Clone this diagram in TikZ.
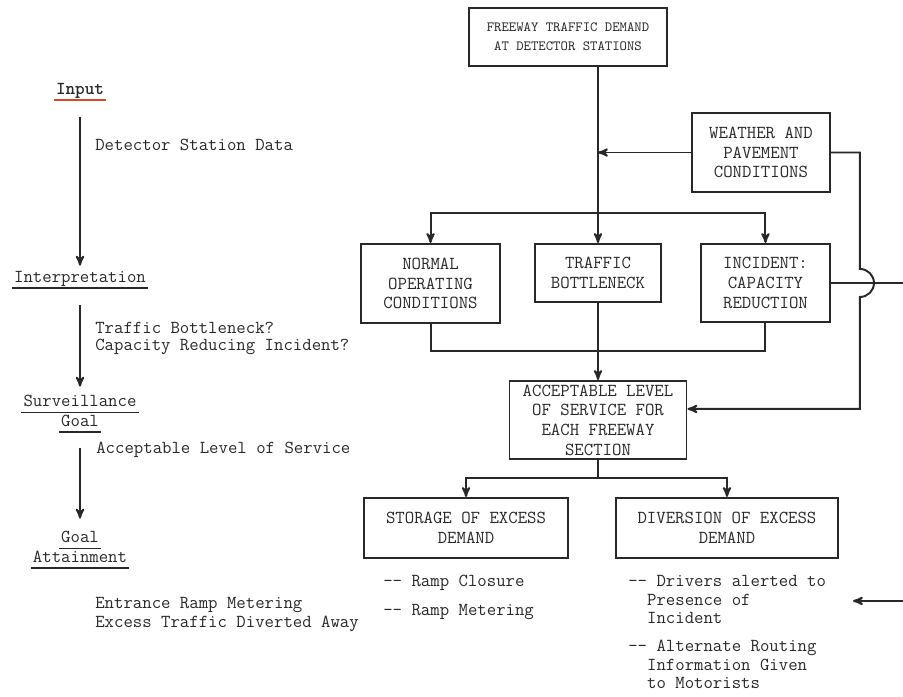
\documentclass[tikz,border=0pt]{standalone}
\usetikzlibrary{positioning,shapes,arrows}
\definecolor{inputred}{RGB}{214,72,40}
\definecolor{ink}{RGB}{40,40,40}
\newcommand\twodash{-\kern0pt-}
\newsavebox\ulbox
\newcommand\rulebelow[2][ink]{\sbox\ulbox{#2}\makebox[0pt][l]{\kern-1.5pt\textcolor{#1}{\rule[-5pt]{\dimexpr\wd\ulbox+3pt\relax}{1.2pt}}}\usebox\ulbox}
\tikzstyle{panel}=[rectangle, draw=ink, line width=1.4pt, text=ink, align=center, inner sep=1pt, font=\ttfamily\fontsize{13}{14}\selectfont]
\tikzstyle{stage}=[inner sep=0pt, align=center, text=ink, font=\ttfamily\fontsize{13}{13}\selectfont]
\tikzstyle{note}=[inner sep=0pt, align=left, text=ink, font=\ttfamily\fontsize{13}{13.5}\selectfont]

\begin{document}
\begin{tikzpicture}[
        node distance = .9cm,
        line/.style={->, >=stealth', line width=1.4pt, draw=ink},
        link/.style={line width=1.4pt, draw=ink},
      ]
      \useasboundingbox (0,0) rectangle (22.575,-17.4);
      % left column
      \node (Input) [stage] at (2.0,-2.3) {\rulebelow[inputred]{\bfseries Input}};
      \node (Interpretation) [stage] at (2.0,-7.0) {\rulebelow{Interpretation}};
      \node (Surveillance) [stage] at (2.0,-10.35) {\rulebelow{Surveillance}\\\rulebelow{Goal}};
      \node (Attainment) [stage] at (2.0,-13.75) {\rulebelow{Goal}\\\rulebelow{Attainment}};
      \node (DataLabel) [note, anchor=west] at (2.375,-3.625) {Detector Station Data};
      \node (QuestionLabel) [note, anchor=west, font=\ttfamily\fontsize{13}{12.5}\selectfont] at (2.375,-8.46)
            {Traffic Bottleneck?\\Capacity Reducing Incident?};
      \node (ServiceLabel) [note, anchor=west] at (2.4,-11.25) {Acceptable Level of Service};
      \node (ActionLabel) [note, anchor=west] at (2.375,-15.36)
            {Entrance Ramp Metering\\Excess Traffic Diverted Away};
      \draw [line, shorten <=.4cm, shorten >=.125cm] (Input) -- (Interpretation);
      \draw [line, shorten <=.4cm, shorten >=.2cm] (Interpretation) -- (Surveillance);
      \draw [line, shorten <=.375cm, shorten >=.3cm] (Surveillance) -- (Attainment);
      % flow chart
      \node (Freeway) [panel, font=\ttfamily\fontsize{10}{13.5}\selectfont, minimum width=4.95cm, minimum height=1.45cm] at (14.2,-0.925)
            {FREEWAY TRAFFIC DEMAND\\AT DETECTOR STATIONS};
      \node (Traffic) [panel, minimum width=3.15cm, minimum height=1.45cm, below=4.4cm of Freeway, xshift=.75cm]
            {TRAFFIC\\BOTTLENECK};
      \node (Normal) [panel, minimum width=3.475cm, minimum height=1.975cm, below left=0cm and .825cm of Traffic.north west]
            {NORMAL\\OPERATING\\CONDITIONS};
      \node (Incident) [panel, minimum width=3.225cm, minimum height=1.95cm, below right=0cm and .95cm of Traffic.north east]
            {INCIDENT:\\CAPACITY\\REDUCTION};
      \node (Weather) [panel, minimum width=3.45cm, minimum height=1.975cm, above left=1.25cm and 0cm of Incident.north east]
            {WEATHER AND\\PAVEMENT\\CONDITIONS};
      \node (Acceptable) [panel, minimum width=4.425cm, minimum height=1.95cm, below=1.925cm of Traffic]
            {ACCEPTABLE LEVEL\\OF SERVICE FOR\\EACH FREEWAY\\SECTION};
      \node (Storage) [panel, minimum width=5.1cm, minimum height=1.5cm, below left=.925cm and .725cm of Acceptable.south]
            {STORAGE OF EXCESS\\DEMAND};
      \node (Diversion) [panel, minimum width=5.55cm, minimum height=1.5cm, below right=.925cm and .425cm of Acceptable.south]
            {DIVERSION OF EXCESS\\DEMAND};
      \node (Closure) [note, below right=.4cm and .5cm of Storage.south west]
            {\twodash{} Ramp Closure\\[7pt]\twodash{} Ramp Metering};
      \node (Drivers) [note, font=\ttfamily\fontsize{13}{13.3}\selectfont, below right=.4cm and .325cm of Diversion.south west]
            {\twodash{} Drivers alerted to\\\phantom{\twodash}Presence of\\\phantom{\twodash}Incident\\[6.5pt]%
             \twodash{} Alternate Routing\\\phantom{\twodash}Information Given\\\phantom{\twodash}to Motorists};
      % connectors
      \coordinate (split) at ([yshift=.75cm]Traffic.north);
      \coordinate (merge) at ([yshift=-1.2cm]Traffic.south);
      \coordinate (fork) at ([yshift=-.45cm]Acceptable.south);
      \coordinate (loop) at ([xshift=.725cm]Weather.east);
      \coordinate (edge) at (22.575,0);
      \coordinate (return) at ([yshift=-.65cm]Drivers.north -| edge);
      \draw [line] (Freeway.south -| Traffic.north) -- (Traffic.north);
      \draw [line] (Weather.west) -- (Weather.west -| Traffic.north);
      \draw [line] (split) -| (Normal.north);
      \draw [line] (split) -| (Incident.north);
      \draw [link] (Normal.south) |- (merge) -| (Incident.south);
      \draw [line] (Traffic.south) -- (Acceptable.north);
      \draw [line] (Weather.east) -- (loop) -- ([yshift=.35cm]loop |- Incident.east)
            arc [start angle=90, end angle=-90, radius=.35cm] |- ([yshift=.275cm]Acceptable.east);
      \draw [link] (Incident.east) -- (Incident.east -| edge);
      \draw [link] (Acceptable.south) -- (fork);
      \draw [line] (fork) -| (Storage.north);
      \draw [line] (fork) -| (Diversion.north);
      \draw [line] (return) -- ++(-1.25,0);
    \end{tikzpicture}
\end{document}
